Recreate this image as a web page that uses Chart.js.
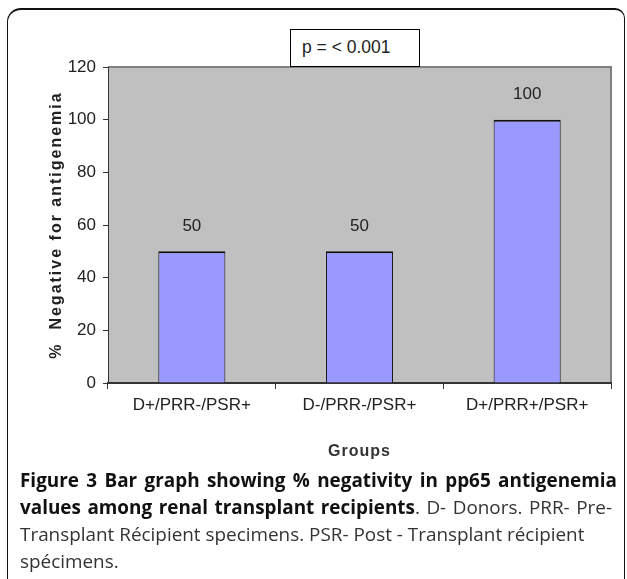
<!DOCTYPE html>
<html>
<head>
<meta charset="utf-8">
<script src="https://cdn.jsdelivr.net/npm/chart.js@4/dist/chart.umd.min.js"></script>
<style>
  html, body { margin: 0; padding: 0; background: #fff; width: 627px; height: 579px; overflow: hidden; }
  #frame { position: absolute; left: 7px; top: 8px; width: 618px; height: 620px; border: 1px solid #111; border-top-width: 2px; border-radius: 14px 10px 0 0; box-sizing: border-box; }
  #wrap { position: absolute; left: 0; top: 0; width: 627px; height: 470px; }
  #pbox { position: absolute; left: 290px; top: 29px; width: 130px; height: 38px; border: 1px solid #000; background: #fff; box-sizing: border-box;
          font-family: 'Liberation Sans', Arial, sans-serif; font-size: 17.5px; color: #222; line-height: 34px; padding-left: 11px; }
  #caption { position: absolute; left: 20px; top: 467px; width: 600px; font-family: 'Open Sans', sans-serif; font-size: 18.9px; line-height: 27px; color: #333; }
  #caption .l { white-space: nowrap; }
  #caption .j { text-align: justify; text-align-last: justify; }
  #caption b { color: #111; font-weight: 700; }
</style>
</head>
<body>
<div id="frame"></div>
<div id="wrap"><canvas id="c" width="627" height="470"></canvas></div>
<div id="pbox">p = &lt; 0.001</div>
<div id="caption">
  <div class="l j" style="width:597px"><b>Figure 3 Bar graph showing % negativity in pp65 antigenemia</b></div>
  <div class="l j" style="width:592px"><b>values among renal transplant recipients</b>. D- Donors. PRR- Pre-</div>
  <div class="l">Transplant Récipient specimens. PSR- Post - Transplant récipient</div>
  <div class="l">spécimens.</div>
</div>
<script>
const categories = ['D+/PRR-/PSR+', 'D-/PRR-/PSR+', 'D+/PRR+/PSR+'];
const negativePercent = [50, 50, 100];
const yMin = 0;
const yMax = 120;
const yStep = 20;
const yTitle = '%  Negative for antigenemia';
const xTitle = 'Groups';

const tickFont = { family: "'Liberation Sans', Arial, sans-serif", size: 17 };

const plotBg = {
  id: 'plotBg',
  beforeDraw(chart) {
    const { ctx, chartArea: a } = chart;
    ctx.save();
    ctx.fillStyle = '#c0c0c0';
    ctx.fillRect(a.left, a.top, a.right - a.left, a.bottom - a.top);
    ctx.strokeStyle = '#808080';
    ctx.lineWidth = 2;
    ctx.beginPath();
    ctx.moveTo(a.left, a.top);
    ctx.lineTo(a.right, a.top);
    ctx.lineTo(a.right, a.bottom);
    ctx.stroke();
    ctx.restore();
  }
};

const valueLabels = {
  id: 'valueLabels',
  afterDatasetsDraw(chart) {
    const { ctx } = chart;
    ctx.save();
    ctx.font = "17px 'Liberation Sans', Arial, sans-serif";
    ctx.fillStyle = '#222';
    ctx.textAlign = 'center';
    ctx.textBaseline = 'middle';
    chart.getDatasetMeta(0).data.forEach((bar, i) => {
      ctx.fillText(String(chart.data.datasets[0].data[i]), bar.x, bar.y - 25);
    });
    ctx.restore();
  }
};

const spacedTitles = {
  id: 'spacedTitles',
  afterLayout(chart) {
    [['y', '2px'], ['x', '1px']].forEach(([id, sp]) => {
      const s = chart.scales[id];
      if (s && !s._spaced) {
        const orig = s.drawTitle.bind(s);
        s.drawTitle = function (...args) {
          const ctx = this.ctx;
          ctx.save();
          ctx.letterSpacing = sp;
          orig(...args);
          ctx.restore();
        };
        s._spaced = true;
      }
    });
  }
};

new Chart(document.getElementById('c'), {
  type: 'bar',
  data: {
    labels: categories,
    datasets: [{
      data: negativePercent,
      backgroundColor: '#9999ff',
      borderColor: '#111',
      borderWidth: { top: 2, left: 1, right: 1, bottom: 0 },
      borderSkipped: 'start',
      barPercentage: 0.4,
      categoryPercentage: 1.0
    }]
  },
  options: {
    responsive: false,
    animation: false,
    devicePixelRatio: 1,
    layout: { padding: { top: 67, right: 16, left: 0, bottom: 0 } },
    plugins: { legend: { display: false }, tooltip: { enabled: false }, title: { display: false } },
    scales: {
      x: {
        afterFit(s) { s.height = 87; },
        grid: { display: true, drawOnChartArea: false, drawTicks: true, tickLength: 6, color: '#333', offset: true },
        border: { display: true, color: '#333', width: 2 },
        ticks: { font: tickFont, color: '#222', padding: 6, maxRotation: 0 },
        title: { display: true, text: xTitle, font: { family: "'Liberation Sans', Arial, sans-serif", size: 16, weight: 'bold' }, color: '#333', padding: { top: 0, bottom: 9 } }
      },
      y: {
        min: yMin, max: yMax,
        afterFit(s) { s.width = 108; },
        grid: { display: true, drawOnChartArea: false, drawTicks: true, tickLength: 5, color: '#333' },
        border: { display: true, color: '#333', width: 1 },
        ticks: { stepSize: yStep, font: tickFont, color: '#222', padding: 7 },
        title: { display: true, text: yTitle, font: { family: "'Liberation Sans', Arial, sans-serif", size: 16, weight: 'bold' }, color: '#222', padding: { top: 47, bottom: 0 } }
      }
    }
  },
  plugins: [plotBg, valueLabels, spacedTitles]
});
</script>
</body>
</html>
